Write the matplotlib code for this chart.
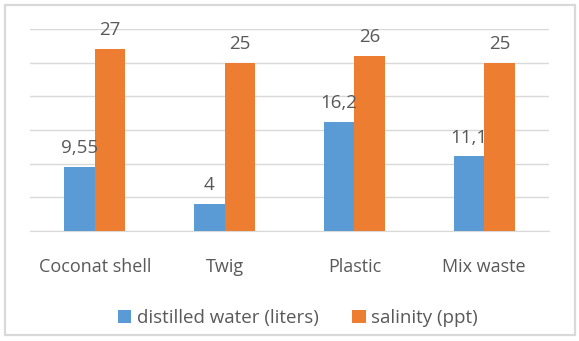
import matplotlib
matplotlib.use("Agg")
import matplotlib.pyplot as plt
from matplotlib.patches import Rectangle
import numpy as np

categories = ["Coconat shell", "Twig", "Plastic", "Mix waste"]
water = [9.55, 4, 16.2, 11.1]
salinity = [27, 25, 26, 25]
water_labels = ["9,55", "4", "16,2", "11,1"]
salinity_labels = ["27", "25", "26", "25"]
series_names = ["distilled water (liters)", "salinity (ppt)"]

plt.rcParams['font.family'] = ['Open Sans', 'DejaVu Sans']
W, H = 579, 341
fig = plt.figure(figsize=(W/100, H/100), dpi=100)
fig.patch.set_facecolor('white')

# outer border
fig.patches.append(Rectangle((5/W, 6/H), 570/W, 330/H, transform=fig.transFigure,
                             fill=False, edgecolor='#d9d9d9', linewidth=1.6))

ax = fig.add_axes([30/W, 110/H, 519/W, 202/H])
x = np.arange(len(categories))
bw = 0.235
blue = '#5B9BD5'
orange = '#ED7D31'
txt = '#595959'
b1 = ax.bar(x - bw/2, water, bw, color=blue, label=series_names[0], zorder=3)
b2 = ax.bar(x + bw/2, salinity, bw, color=orange, label=series_names[1], zorder=3)
for rect, lab in zip(b1, water_labels):
    ax.annotate(lab, (rect.get_x() + rect.get_width()/2, rect.get_height()),
                xytext=(0, 7), textcoords='offset points', ha='center', va='bottom',
                fontsize=13.5, color=txt)
for rect, lab in zip(b2, salinity_labels):
    ax.annotate(lab, (rect.get_x() + rect.get_width()/2, rect.get_height()),
                xytext=(0, 7), textcoords='offset points', ha='center', va='bottom',
                fontsize=13.5, color=txt)

ax.set_xlim(-0.5, len(categories) - 0.5)
ax.set_ylim(0, 30)
ax.set_yticks(np.arange(0, 31, 5))
ax.yaxis.grid(True, color='#d9d9d9', linewidth=1, zorder=0)
ax.tick_params(axis='y', left=False, labelleft=False)
ax.tick_params(axis='x', bottom=False, pad=16, labelsize=13, labelcolor=txt)
ax.set_xticks(x)
ax.set_xticklabels(categories)
for s in ['top', 'right', 'left']:
    ax.spines[s].set_visible(False)
ax.spines['bottom'].set_color('#d9d9d9')
ax.set_facecolor('none')

leg = fig.legend(handles=[b1, b2], labels=series_names, loc='center',
                 bbox_to_anchor=(298/W, 1 - 318/H), ncol=2, frameon=False,
                 fontsize=13.5, handlelength=0.7, handleheight=0.7, handletextpad=0.3,
                 columnspacing=1.8)
for t in leg.get_texts():
    t.set_color(txt)

fig.savefig('out.png', dpi=100, facecolor='white')
